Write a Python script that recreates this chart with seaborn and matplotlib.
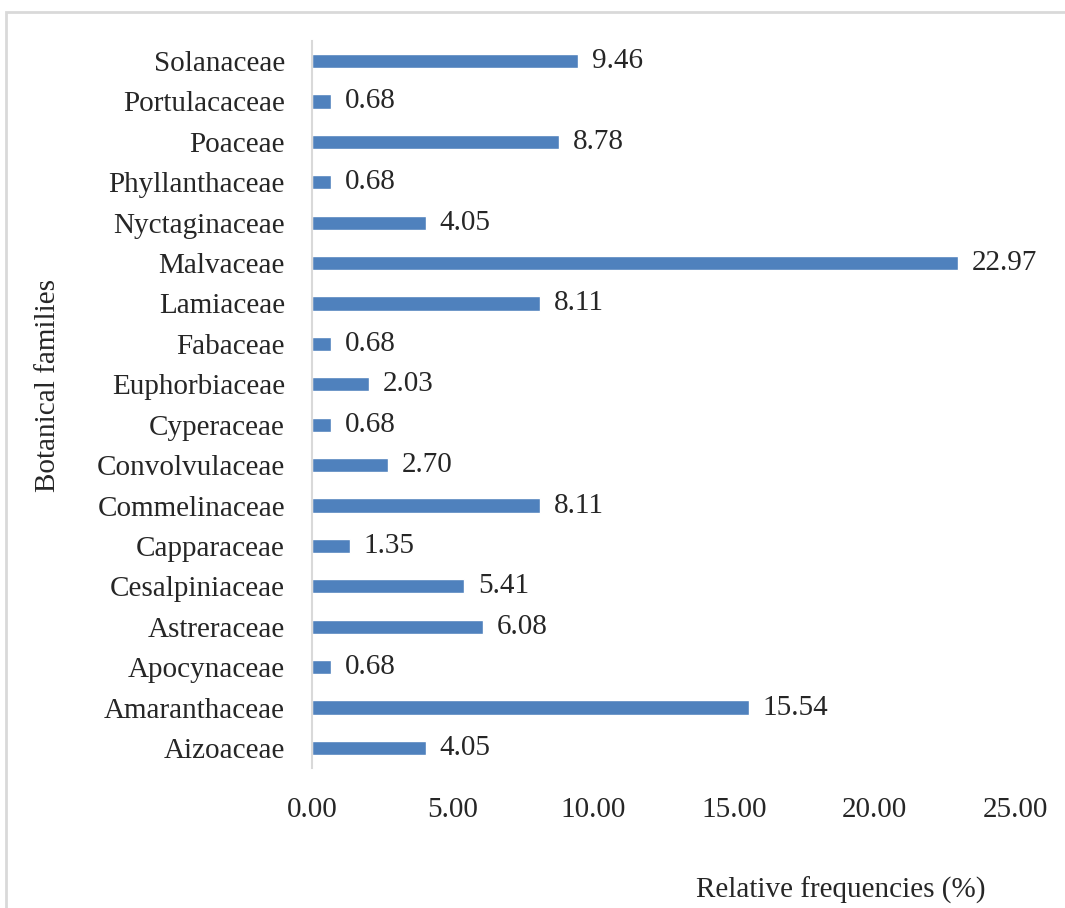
import pandas as pd
import seaborn as sns
import matplotlib.pyplot as plt
from matplotlib.patches import Rectangle

families = ['Solanaceae', 'Portulacaceae', 'Poaceae', 'Phyllanthaceae', 'Nyctaginaceae',
            'Malvaceae', 'Lamiaceae', 'Fabaceae', 'Euphorbiaceae', 'Cyperaceae',
            'Convolvulaceae', 'Commelinaceae', 'Capparaceae', 'Cesalpiniaceae',
            'Astreraceae', 'Apocynaceae', 'Amaranthaceae', 'Aizoaceae']
rel_freq = [9.46, 0.68, 8.78, 0.68, 4.05, 22.97, 8.11, 0.68, 2.03, 0.68,
            2.70, 8.11, 1.35, 5.41, 6.08, 0.68, 15.54, 4.05]
x_ticks = [0, 5, 10, 15, 20, 25]

df = pd.DataFrame({'Family': families, 'Frequency': rel_freq})

sns.set_style('white')
plt.rcParams['font.family'] = ['Liberation Serif', 'DejaVu Serif']
fs = 21

fig = plt.figure(figsize=(10.65, 9.08), dpi=100)
ax = fig.add_axes([0.293, 0.154, 0.660, 0.801])

sns.barplot(data=df, x='Frequency', y='Family', orient='h', color='#4f81bd',
            saturation=1, width=0.35, ax=ax)

# value labels to the right of each bar
ax.bar_label(ax.containers[0], fmt='%.2f', padding=10, fontsize=fs)

ax.set_xlim(0, 25)
ax.set_xticks(x_ticks)
ax.set_xticklabels([f'{t:.2f}' for t in x_ticks])
ax.tick_params(axis='x', length=0, pad=21, labelsize=fs)
ax.tick_params(axis='y', length=0, pad=19.5, labelsize=fs)
ax.set_xlabel('')
ax.set_ylabel('')

for side in ['top', 'right', 'bottom']:
    ax.spines[side].set_visible(False)
ax.spines['left'].set_color('#d9d9d9')
ax.spines['left'].set_linewidth(1.5)

fig.text(841 / 1065, 1 - 890 / 908, 'Relative frequencies (%)', ha='center', va='center', fontsize=fs)
fig.text(48 / 1065, 1 - 385 / 908, 'Botanical families', ha='center', va='center',
         rotation=90, fontsize=fs)

# chart area border
fig.patches.append(Rectangle((6 / 1065, -0.1), 1.2, 1 - 12 / 908 + 0.1, transform=fig.transFigure,
                             fill=False, edgecolor='#d9d9d9', linewidth=2))

fig.savefig('out.png', dpi=100)
